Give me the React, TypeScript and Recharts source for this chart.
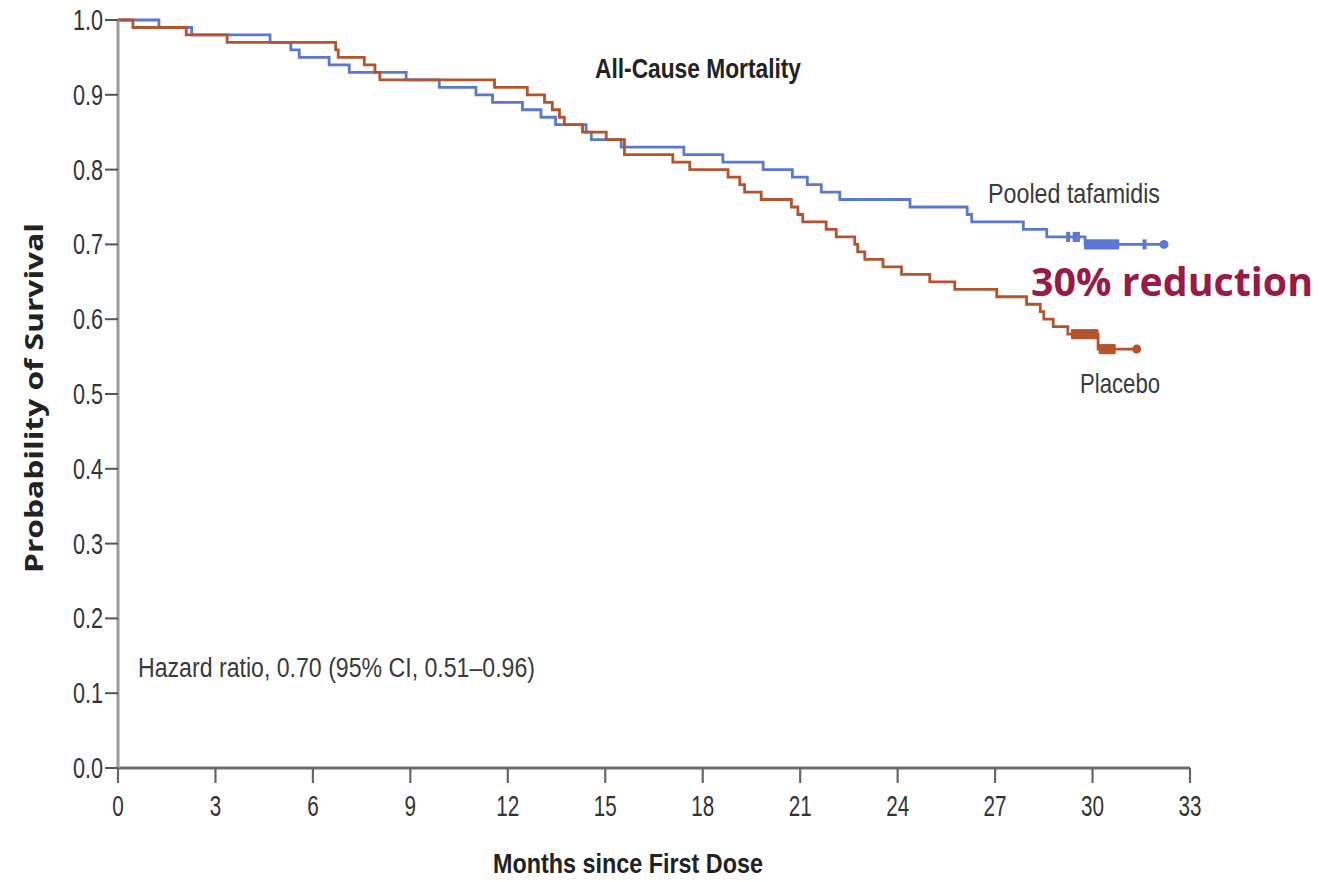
import React from 'react';
import { ComposedChart, Line, Scatter, XAxis, YAxis, Customized } from 'recharts';

// ---------- data ----------
const xTicks = [0, 3, 6, 9, 12, 15, 18, 21, 24, 27, 30, 33];
const yTicks = [0, 0.1, 0.2, 0.3, 0.4, 0.5, 0.6, 0.7, 0.8, 0.9, 1.0];

// Pooled tafamidis Kaplan-Meier steps (months, survival)
const tafamidisTimes = [0, 1.26, 2.27, 4.68, 5.32, 5.58, 6.5, 7.12, 8.87, 9.89, 11.02, 11.53, 12.45, 13.02, 13.47, 14.41, 14.57, 15.49, 17.42, 18.62, 19.86, 20.76, 21.22, 21.65, 22.22, 24.38, 26.14, 26.28, 27.87, 28.59, 29.77, 32.2];
const tafamidisSurv = [1.0, 0.99, 0.98, 0.97, 0.96, 0.95, 0.94, 0.93, 0.92, 0.91, 0.90, 0.89, 0.88, 0.87, 0.86, 0.85, 0.84, 0.83, 0.82, 0.81, 0.80, 0.79, 0.78, 0.77, 0.76, 0.75, 0.74, 0.73, 0.72, 0.71, 0.70, 0.70];

// Placebo Kaplan-Meier steps (months, survival)
const placeboTimes = [0, 0.46, 2.1, 3.36, 6.7, 6.78, 7.58, 7.91, 8.06, 11.59, 12.6, 13.13, 13.37, 13.59, 13.74, 14.3, 15.03, 15.59, 17.08, 17.6, 18.78, 19.14, 19.29, 19.8, 20.73, 20.93, 21.08, 21.8, 22.11, 22.68, 22.77, 22.99, 23.55, 24.12, 24.99, 25.76, 27.05, 27.97, 28.39, 28.5, 28.79, 29.24, 30.17, 31.36];
const placeboSurv = [1.0, 0.99, 0.98, 0.97, 0.96, 0.95, 0.94, 0.93, 0.92, 0.91, 0.90, 0.89, 0.88, 0.87, 0.86, 0.85, 0.84, 0.82, 0.81, 0.80, 0.79, 0.78, 0.77, 0.76, 0.75, 0.74, 0.73, 0.72, 0.71, 0.70, 0.69, 0.68, 0.67, 0.66, 0.65, 0.64, 0.63, 0.62, 0.61, 0.60, 0.59, 0.58, 0.56, 0.56];

// censoring marks
const tafamidisCensorTimes = [29.25, 29.45, 29.55, 29.8, 29.88, 29.96, 30.04, 30.12, 30.2, 30.28, 30.36, 30.44, 30.52, 30.6, 30.68, 30.76, 31.6];
const tafamidisCensorSurv = [0.71, 0.71, 0.71, 0.70, 0.70, 0.70, 0.70, 0.70, 0.70, 0.70, 0.70, 0.70, 0.70, 0.70, 0.70, 0.70, 0.70];
const placeboCensorTimes = [29.4, 29.48, 29.56, 29.64, 29.72, 29.8, 29.88, 29.96, 30.04, 30.12, 30.25, 30.33, 30.41, 30.49, 30.57, 30.65];
const placeboCensorSurv = [0.58, 0.58, 0.58, 0.58, 0.58, 0.58, 0.58, 0.58, 0.58, 0.58, 0.56, 0.56, 0.56, 0.56, 0.56, 0.56];
const tafamidisEndTimes = [32.2];
const tafamidisEndSurv = [0.70];
const placeboEndTimes = [31.36];
const placeboEndSurv = [0.56];

const zip = (ts: number[], ss: number[]) => ts.map((t, i) => ({ t, s: ss[i] }));

const tafamidisData = zip(tafamidisTimes, tafamidisSurv);
const placeboData = zip(placeboTimes, placeboSurv);
const tafamidisCensor = zip(tafamidisCensorTimes, tafamidisCensorSurv);
const placeboCensor = zip(placeboCensorTimes, placeboCensorSurv);
const tafamidisEnd = zip(tafamidisEndTimes, tafamidisEndSurv);
const placeboEnd = zip(placeboEndTimes, placeboEndSurv);

// ---------- styling ----------
const BLUE = '#5a78d2';
const RED = '#b4532c';
const NARROW = '"Liberation Sans Narrow", "Liberation Sans", Arial, sans-serif';
const TEXT = '#3a3a3a';

const YTick = (props: any) => {
  const { x, y, payload } = props;
  return (
    <text x={x} y={y + 10} textAnchor="end" fontFamily={NARROW} fontSize={29} fill="#333"
      textLength={30} lengthAdjust="spacingAndGlyphs">
      {Number(payload.value).toFixed(1)}
    </text>
  );
};

const XTick = (props: any) => {
  const { x, y, payload } = props;
  const label = String(payload.value);
  return (
    <text x={x} y={y + 29} textAnchor="middle" fontFamily={NARROW} fontSize={29} fill="#333"
      textLength={label.length * 11.5} lengthAdjust="spacingAndGlyphs">
      {label}
    </text>
  );
};

const CensorMark = (props: any) => {
  const { cx, cy, fill } = props;
  return <rect x={cx - 2} y={cy - 5} width={4} height={10} fill={fill} />;
};

const EndDot = (props: any) => {
  const { cx, cy, fill } = props;
  return <circle cx={cx} cy={cy} r={4.5} fill={fill} />;
};

const Annotations = () => (
  <g>
    <text x={595} y={78} fontFamily={NARROW} fontWeight="bold" fontSize={27} fill="#222"
      textLength={206} lengthAdjust="spacingAndGlyphs">All-Cause Mortality</text>
    <text x={988} y={203} fontFamily={NARROW} fontSize={28} fill={TEXT}
      textLength={172} lengthAdjust="spacingAndGlyphs">Pooled tafamidis</text>
    <text x={1031} y={296} fontFamily='"Open Sans", "Liberation Sans", sans-serif' fontWeight="bold" fontSize={39} fill="#9a1a45"
      textLength={282} lengthAdjust="spacingAndGlyphs">30% reduction</text>
    <text x={1080} y={393} fontFamily={NARROW} fontSize={28} fill={TEXT}
      textLength={80} lengthAdjust="spacingAndGlyphs">Placebo</text>
    <text x={138} y={677} fontFamily={NARROW} fontSize={27} fill={TEXT}
      textLength={397} lengthAdjust="spacingAndGlyphs">Hazard ratio, 0.70 (95% CI, 0.51–0.96)</text>
    <text x={628} y={873} textAnchor="middle" fontFamily={NARROW} fontWeight="bold" fontSize={28} fill="#222"
      textLength={270} lengthAdjust="spacingAndGlyphs">Months since First Dose</text>
    <text x={43} y={398} textAnchor="middle" transform="rotate(-90 43 398)"
      fontFamily='"Open Sans", "Liberation Sans", sans-serif' fontWeight="bold" fontSize={25} fill="#222"
      textLength={350} lengthAdjust="spacingAndGlyphs">Probability of Survival</text>
  </g>
);

export default function App() {
  return (
    <div style={{ position: 'absolute', left: 0, top: 0, width: 1320, height: 882, background: '#fff' }}>
      <ComposedChart width={1320} height={882} margin={{ top: 20, right: 130, bottom: 0, left: 0 }}>
        <XAxis
          type="number"
          dataKey="t"
          domain={[0, 33]}
          ticks={xTicks}
          interval={0}
          height={114}
          tickSize={15}
          tickMargin={4}
          tick={<XTick />}
          axisLine={{ stroke: '#6e6e6e', strokeWidth: 3 }}
          tickLine={{ stroke: '#666', strokeWidth: 2.2 }}
          allowDuplicatedCategory={false}
        />
        <YAxis
          type="number"
          dataKey="s"
          domain={[0, 1]}
          ticks={yTicks}
          interval={0}
          width={118}
          tickSize={13}
          tickMargin={2}
          tick={<YTick />}
          axisLine={{ stroke: '#9a9a9a', strokeWidth: 3 }}
          tickLine={{ stroke: '#555', strokeWidth: 2 }}
        />
        <Line data={tafamidisData} dataKey="s" type="stepAfter" stroke={BLUE} strokeWidth={2.8}
          dot={false} activeDot={false} isAnimationActive={false} />
        <Line data={placeboData} dataKey="s" type="stepAfter" stroke={RED} strokeWidth={2.8}
          dot={false} activeDot={false} isAnimationActive={false} />
        <Scatter data={tafamidisCensor} dataKey="s" fill={BLUE} shape={<CensorMark />} isAnimationActive={false} />
        <Scatter data={placeboCensor} dataKey="s" fill={RED} shape={<CensorMark />} isAnimationActive={false} />
        <Scatter data={tafamidisEnd} dataKey="s" fill={BLUE} shape={<EndDot />} isAnimationActive={false} />
        <Scatter data={placeboEnd} dataKey="s" fill={RED} shape={<EndDot />} isAnimationActive={false} />
        <Customized component={<Annotations />} />
      </ComposedChart>
    </div>
  );
}
